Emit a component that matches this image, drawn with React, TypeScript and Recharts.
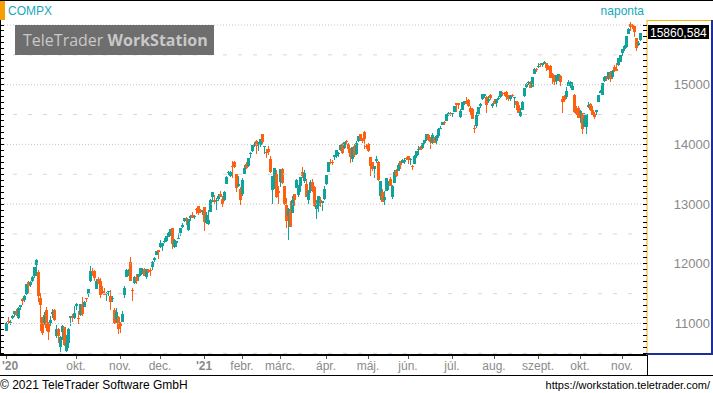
import React from 'react';
import { ComposedChart, Bar, XAxis, YAxis, ReferenceLine } from 'recharts';

const TEAL = '#0fa39b';
const ORANGE = '#ff5f10';
const HEADER = '#17a8bb';
const AXIS_TEXT = '#8a8a8a';

const symbol = 'COMPX';
const period = 'naponta';
const lastPrice = 15860.584;

// first trading day of each month (index into the daily arrays) and its label
const monthTickDays = [0, 35, 57, 77, 99, 118, 137, 160, 181, 201, 223, 244, 266, 287, 308];
const monthLabels = ["'20", 'okt.', 'nov.', 'dec.', "'21", 'febr.', 'márc.', 'ápr.', 'máj.', 'jún.', 'júl.', 'aug.', 'szept.', 'okt.', 'nov.'];

const priceLabels = [11000, 12000, 13000, 14000, 15000];
const majorLevels = [11000, 12000, 13000, 14000, 15000, 16000];
const minorLevels = [10500, 11500, 12500, 13500, 14500, 15500];

// daily OHLC, 2020-08-12 .. 2021-11-12 (one line per month)
const opens = [
  10882, 11047, 11015, 11087, 11160, 11204, 11094, 11276, 11418, 11398, 11498, 11693, 11650, 11715,
  11799, 11978, 11861, 11422, 11110, 11011, 11224, 11010, 11015, 11161, 11232, 10790, 10900, 10614, 10864, 10939, 10542, 10667, 11084, 11128, 11084,
  11298, 11093, 11148, 11329, 11283, 11430, 11490, 11707, 11876, 11878, 11586, 11753, 11716, 11541, 11495, 11502, 11534, 11457, 11407, 11230, 11065, 11103,
  10983, 11032, 11469, 11784, 11850, 12023, 11562, 11678, 11776, 11771, 11820, 11884, 11918, 11779, 11890, 11891, 11952, 12070, 12143, 12236,
  12283, 12299, 12374, 12384, 12455, 12490, 12602, 12286, 12343, 12440, 12518, 12620, 12716, 12773, 12574, 12768, 12821, 12792, 12915, 12966, 12907, 12877,
  12959, 12688, 12666, 12867, 13117, 13076, 13055, 13080, 13161, 13084, 13071, 13331, 13517, 13468, 13640, 13710, 13504, 13298, 13250,
  13162, 13499, 13665, 13645, 13850, 13896, 13966, 14064, 14019, 13996, 14167, 13953, 13880, 13924, 13750, 13236, 13457, 13498, 13217,
  13378, 13582, 13296, 12983, 12806, 12909, 12859, 13161, 13265, 13152, 13300, 13535, 13389, 13339, 13067, 13213, 13375, 13287, 12920, 12972, 13066, 13012, 13077,
  13340, 13546, 13701, 13700, 13783, 13806, 13842, 13898, 14007, 13946, 14057, 14010, 13923, 13755, 13966, 13843, 14050, 14167, 14094, 14216, 13971,
  14002, 13787, 13698, 13596, 13714, 13703, 13140, 13209, 13073, 13221, 13357, 13424, 13118, 13356, 13574, 13559, 13717, 13692, 13704, 13779,
  13806, 13739, 13643, 13677, 13812, 13918, 13959, 13938, 14028, 14080, 14165, 14093, 14022, 14106, 14064, 14135, 14261, 14322, 14380, 14391, 14509, 14513,
  14508, 14545, 14693, 14694, 14456, 14582, 14722, 14712, 14736, 14617, 14596, 14280, 14316, 14507, 14640, 14756, 14812, 14802, 14730, 14820, 14640,
  14734, 14700, 14762, 14791, 14855, 14866, 14886, 14820, 14766, 14831, 14778, 14720, 14654, 14474, 14577, 14803, 14967, 15034, 15022, 14962, 15183, 15263,
  15290, 15346, 15328, 15367, 15367, 15284, 15315, 15183, 15162, 15061, 15127, 15153, 14759, 14804, 14792, 14979, 14970, 14911, 14833, 14612, 14617,
  14531, 14518, 14296, 14299, 14620, 14680, 14575, 14513, 14538, 14711, 14868, 14835, 15058, 15147, 15098, 15204, 15136, 15295, 15259, 15327, 15378,
  15526, 15604, 15640, 15857, 16019, 16004, 15990, 15787, 15658, 15751,
];
const highs = [
  11031, 11101, 11052, 11135, 11215, 11250, 11284, 11317, 11420, 11469, 11665, 11720, 11710, 11794,
  11945, 12074, 11894, 11519, 11111, 11194, 11284, 11028, 11124, 11242, 11245, 10970, 10918, 10794, 10969, 10944, 10813, 10926, 11124, 11153, 11301,
  11342, 11211, 11332, 11447, 11380, 11434, 11582, 11968, 11925, 11896, 11746, 11786, 11757, 11623, 11594, 11524, 11548, 11568, 11465, 11263, 11255, 11117,
  11031, 11210, 11620, 11920, 11912, 12109, 11595, 11799, 11825, 11831, 11926, 11927, 11935, 11913, 11913, 11922, 12049, 12110, 12212, 12237,
  12391, 12356, 12438, 12467, 12536, 12589, 12607, 12422, 12379, 12522, 12596, 12677, 12768, 12776, 12745, 12809, 12863, 12809, 12931, 12974, 12925, 12902,
  12959, 12870, 12902, 13090, 13208, 13160, 13103, 13176, 13226, 13133, 13211, 13465, 13557, 13557, 13728, 13723, 13510, 13478, 13283,
  13431, 13649, 13697, 13778, 13878, 13988, 14044, 14068, 14033, 14097, 14175, 13981, 13920, 13970, 13804, 13477, 13600, 13564, 13299,
  13590, 13607, 13296, 13106, 12940, 13047, 13131, 13165, 13413, 13321, 13460, 13620, 13570, 13423, 13230, 13411, 13427, 13305, 13070, 13140, 13125, 13049, 13302,
  13481, 13708, 13749, 13742, 13829, 13900, 13874, 14000, 14021, 14042, 14066, 14021, 13939, 13951, 14000, 14053, 14139, 14167, 14102, 14222, 14008,
  14020, 13787, 13707, 13642, 13800, 13718, 13390, 13258, 13211, 13436, 13384, 13446, 13318, 13564, 13593, 13690, 13720, 13752, 13766, 13786,
  13806, 13770, 13661, 13829, 13889, 13967, 13974, 14031, 14077, 14175, 14169, 14120, 14197, 14129, 14152, 14270, 14308, 14378, 14398, 14505, 14535, 14535,
  14529, 14646, 14700, 14697, 14594, 14702, 14733, 14788, 14759, 14637, 14603, 14331, 14536, 14633, 14695, 14846, 14845, 14806, 14816, 14841, 14698,
  14761, 14762, 14807, 14896, 14875, 14877, 14892, 14820, 14824, 14840, 14802, 14720, 14711, 14614, 14721, 14946, 15022, 15057, 15057, 15132, 15288, 15275,
  15372, 15358, 15370, 15403, 15372, 15335, 15332, 15189, 15171, 15166, 15186, 15156, 14817, 14831, 14966, 15082, 15063, 15040, 14840, 14646, 14636,
  14569, 14526, 14523, 14505, 14707, 14686, 14643, 14537, 14578, 14830, 14908, 15029, 15143, 15149, 15216, 15231, 15242, 15330, 15357, 15454, 15505,
  15596, 15657, 15817, 15948, 16053, 16018, 15990, 15787, 15738, 15864,
];
const lows = [
  10873, 10994, 10975, 11075, 11114, 11127, 11082, 11232, 11312, 11356, 11474, 11512, 11604, 11696,
  11764, 11791, 11363, 10875, 10810, 10973, 10880, 10725, 10962, 11085, 11048, 10762, 10681, 10519, 10717, 10620, 10520, 10588, 10958, 11025, 11082,
  11225, 10992, 11123, 11128, 11270, 11358, 11450, 11699, 11796, 11709, 11570, 11660, 11425, 11499, 11474, 11383, 11468, 11225, 11358, 10999, 11014, 10822,
  10835, 11023, 11429, 11777, 11795, 11711, 11377, 11663, 11666, 11715, 11800, 11830, 11801, 11753, 11848, 11802, 11893, 12030, 12140, 12087,
  12260, 12216, 12354, 12359, 12453, 12466, 12254, 12272, 12279, 12419, 12470, 12597, 12696, 12650, 12541, 12719, 12770, 12752, 12827, 12821, 12857, 12821,
  12543, 12666, 12648, 12867, 13036, 13003, 12903, 13045, 13111, 12958, 13058, 13331, 13482, 13462, 13429, 13604, 13208, 13288, 12985,
  13138, 13499, 13593, 13620, 13777, 13865, 13958, 13843, 13885, 13955, 14004, 13832, 13778, 13826, 13526, 13004, 13260, 13095, 13003,
  13281, 13342, 12987, 12605, 12397, 12609, 12847, 12961, 13263, 13125, 13201, 13432, 13348, 13114, 13001, 13183, 13199, 12958, 12754, 12872, 12952, 12891, 13073,
  13319, 13536, 13668, 13655, 13734, 13765, 13790, 13888, 13846, 13924, 13991, 13858, 13696, 13712, 13786, 13827, 14033, 14063, 14021, 13928, 13926,
  13869, 13471, 13557, 13442, 13684, 13389, 13072, 13031, 12986, 13214, 13241, 13299, 13089, 13346, 13456, 13554, 13591, 13690, 13676, 13735,
  13671, 13661, 13568, 13676, 13778, 13827, 13901, 13919, 14004, 14052, 14065, 13928, 14013, 14030, 13992, 14107, 14257, 14318, 14318, 14386, 14484, 14482,
  14459, 14540, 14535, 14597, 14438, 14580, 14663, 14671, 14631, 14488, 14418, 14199, 14282, 14480, 14611, 14751, 14783, 14521, 14696, 14747, 14616,
  14670, 14621, 14742, 14771, 14804, 14818, 14745, 14732, 14719, 14787, 14612, 14580, 14525, 14464, 14569, 14798, 14946, 14993, 14945, 14962, 15176, 15205,
  15288, 15302, 15302, 15351, 15223, 15248, 15110, 15008, 14999, 14991, 15054, 14982, 14531, 14705, 14762, 14979, 14939, 14904, 14532, 14494, 14448,
  14354, 14182, 14290, 14181, 14612, 14562, 14486, 14432, 14488, 14704, 14856, 14826, 15049, 15070, 15083, 15052, 15097, 15216, 15233, 15311, 15376,
  15477, 15573, 15612, 15857, 15897, 15939, 15798, 15559, 15653, 15728,
];
const closes = [
  11012, 11043, 11019, 11130, 11211, 11146, 11265, 11312, 11380, 11466, 11665, 11625, 11696, 11775,
  11940, 12056, 11458, 11313, 10848, 11142, 10920, 10854, 11057, 11190, 11050, 10910, 10793, 10779, 10964, 10633, 10672, 10914, 11118, 11085, 11168,
  11327, 11075, 11332, 11155, 11365, 11421, 11580, 11876, 11864, 11769, 11714, 11672, 11479, 11516, 11485, 11506, 11548, 11359, 11431, 11005, 11186, 10912,
  10958, 11161, 11591, 11891, 11895, 11714, 11554, 11786, 11710, 11829, 11924, 11899, 11802, 11905, 11855, 11881, 12037, 12094, 12206, 12199,
  12355, 12349, 12377, 12464, 12520, 12583, 12339, 12406, 12378, 12440, 12595, 12658, 12765, 12756, 12743, 12808, 12771, 12805, 12899, 12850, 12870, 12888,
  12698, 12819, 12741, 13067, 13202, 13036, 13072, 13129, 13113, 12999, 13197, 13457, 13531, 13543, 13636, 13626, 13271, 13337, 13071,
  13403, 13613, 13611, 13778, 13856, 13988, 14008, 13973, 14026, 14095, 14048, 13965, 13865, 13874, 13533, 13465, 13598, 13119, 13192,
  13589, 13359, 12998, 12723, 12920, 12609, 13074, 13069, 13399, 13320, 13460, 13472, 13525, 13116, 13215, 13378, 13228, 12962, 12978, 13139, 13060, 13045, 13247,
  13480, 13706, 13698, 13689, 13829, 13900, 13850, 13996, 13858, 14039, 14052, 13915, 13786, 13950, 13818, 14017, 14139, 14090, 14051, 14083, 13963,
  13895, 13634, 13582, 13633, 13752, 13402, 13389, 13032, 13125, 13430, 13379, 13304, 13300, 13536, 13471, 13661, 13657, 13738, 13736, 13749,
  13736, 13756, 13615, 13814, 13882, 13925, 13912, 14020, 14069, 14174, 14073, 14040, 14161, 14030, 14141, 14253, 14272, 14370, 14360, 14501, 14528, 14504,
  14522, 14639, 14664, 14665, 14560, 14702, 14733, 14678, 14645, 14543, 14427, 14275, 14499, 14632, 14685, 14837, 14841, 14661, 14763, 14778, 14673,
  14681, 14761, 14781, 14895, 14836, 14860, 14788, 14765, 14816, 14823, 14794, 14656, 14526, 14542, 14715, 14943, 15020, 15042, 14946, 15130, 15266, 15259,
  15309, 15331, 15364, 15374, 15287, 15248, 15115, 15106, 15038, 15162, 15182, 15044, 14714, 14746, 14897, 15052, 15048, 14970, 14547, 14512, 14449,
  14567, 14255, 14434, 14502, 14654, 14580, 14486, 14466, 14572, 14823, 14897, 15022, 15129, 15122, 15216, 15090, 15227, 15236, 15236, 15448, 15498,
  15596, 15650, 15812, 15940, 15972, 15982, 15887, 15623, 15704, 15861,
];

const data = closes.map((close, i) => ({
  day: i,
  open: opens[i],
  high: highs[i],
  low: lows[i],
  close,
}));

const Y_MIN = 10472;
const Y_MAX = 16084;
const yTicks: number[] = [];
for (let v = 10500; v <= 16000; v += 100) yTicks.push(v);

const Candle = (props: any) => {
  const { x, y, height, payload } = props;
  if (!payload) return null;
  const { open, close, high, low } = payload;
  const span = high - low || 1;
  const toY = (v: number) => y + ((high - v) / span) * height;
  const color = close >= open ? TEAL : ORANGE;
  const top = toY(Math.max(open, close));
  const bottom = toY(Math.min(open, close));
  return (
    <g shapeRendering="crispEdges">
      <rect x={x + 1} y={y} width={1} height={Math.max(height, 1)} fill={color} />
      <rect x={x} y={top} width={3} height={Math.max(bottom - top, 1)} fill={color} />
    </g>
  );
};

const PriceTick = (props: any) => {
  const { x, y, payload } = props;
  const v = payload.value;
  return (
    <g shapeRendering="crispEdges">
      <line x1={x - 4} x2={x} y1={y} y2={y} stroke="#000" />
      <line x1={0} x2={4} y1={y} y2={y} stroke="#000" />
      {priceLabels.includes(v) && (
        <text x={710} y={y + 4.5} textAnchor="end" fill={AXIS_TEXT} fontSize={13}>
          {v}
        </text>
      )}
    </g>
  );
};

const MonthTick = (props: any) => {
  const { x, y, payload } = props;
  const i = monthTickDays.indexOf(payload.value);
  const label = monthLabels[i];
  const isYear = label.startsWith("'");
  return (
    <g>
      <line x1={x} x2={x} y1={y + 1} y2={y + 4} stroke="#555" shapeRendering="crispEdges" />
      <text
        x={i === 0 ? 2 : x}
        y={y + 15}
        textAnchor={i === 0 ? 'start' : 'middle'}
        fontWeight={isYear ? 'bold' : 'normal'}
        fill={AXIS_TEXT}
        fontSize={12}
      >
        {label}
      </text>
    </g>
  );
};

const PriceBox = (props: any) => {
  const { viewBox } = props;
  if (!viewBox) return null;
  const x = viewBox.x + viewBox.width;
  const y = Math.round(viewBox.y);
  return (
    <g>
      <rect x={x + 1} y={y - 8} width={61} height={14} fill="#000" shapeRendering="crispEdges" />
      <text x={x + 3} y={y + 4} fill="#fff" fontSize={12}>
        {lastPrice.toFixed(3).replace('.', ',')}
      </text>
    </g>
  );
};

export default function App() {
  return (
    <div
      style={{
        position: 'absolute',
        left: 0,
        top: 0,
        width: 713,
        height: 393,
        background: '#fff',
        fontFamily: '"Liberation Sans", Arial, sans-serif',
      }}
    >
      <ComposedChart
        width={713}
        height={393}
        data={data}
        margin={{ top: 20, right: 0, bottom: 20, left: 0 }}
        barCategoryGap={0}
        barGap={0}
      >
        <XAxis
          dataKey="day"
          type="category"
          ticks={monthTickDays}
          interval={0}
          padding={{ left: 5, right: 6 }}
          height={18}
          axisLine={{ stroke: '#000', strokeWidth: 2 }}
          tickLine={false}
          tickSize={0}
          tickMargin={0}
          tick={<MonthTick />}
        />
        <YAxis
          orientation="right"
          width={66}
          domain={[Y_MIN, Y_MAX]}
          allowDataOverflow
          ticks={yTicks}
          interval={0}
          tickLine={false}
          tickSize={0}
          tickMargin={0}
          axisLine={{ stroke: '#f0b400' }}
          tick={<PriceTick />}
        />
        {minorLevels.map((v) => (
          <ReferenceLine key={`n${v}`} y={v} stroke="#d8d8d8" strokeDasharray="4 11" />
        ))}
        {majorLevels.map((v) => (
          <ReferenceLine key={`m${v}`} y={v} stroke="#c4c4c4" strokeDasharray="1 2" />
        ))}
        <Bar dataKey={(d: any) => [d.low, d.high]} shape={<Candle />} isAnimationActive={false} />
        <ReferenceLine y={lastPrice} stroke="none" label={<PriceBox />} />
      </ComposedChart>

      <svg
        width={713}
        height={393}
        style={{ position: 'absolute', left: 0, top: 0, pointerEvents: 'none' }}
        shapeRendering="crispEdges"
      >
        <rect x={0} y={0} width={713} height={1} fill="#000" />
        <rect x={0} y={1} width={5} height={19} fill="#f5a000" />
        <rect x={0} y={20} width={1} height={336} fill="#000" />
        <text x={8} y={15} fill={HEADER} fontSize={12} shapeRendering="auto">
          {symbol}
        </text>
        <text x={644} y={15} fill={HEADER} fontSize={12} textAnchor="end" shapeRendering="auto">
          {period}
        </text>

        <rect x={15} y={25} width={199} height={30} fill="#6e6e6e" />
        <text x={23} y={46} fill="#c8c8c8" fontSize={16} fontFamily='"Open Sans", sans-serif' shapeRendering="auto">
          TeleTrader <tspan fontWeight="bold">WorkStation</tspan>
        </text>

        <rect x={647} y={20} width={65} height={1} fill="#f0b400" />
        <rect x={711} y={20} width={2} height={335} fill="#1a2f9c" />
        <rect x={647} y={353} width={66} height={2} fill="#1a2f9c" />
        <rect x={647} y={355} width={1} height={20} fill="#000" />
        <rect x={0} y={375} width={713} height={1} fill="#000" />

        <text x={0} y={389} fill="#000" fontSize={12} shapeRendering="auto">
          © 2021 TeleTrader Software GmbH
        </text>
        <text x={710} y={389} fill="#000" fontSize={11} textAnchor="end" shapeRendering="auto">
          https://workstation.teletrader.com/
        </text>
      </svg>
    </div>
  );
}
